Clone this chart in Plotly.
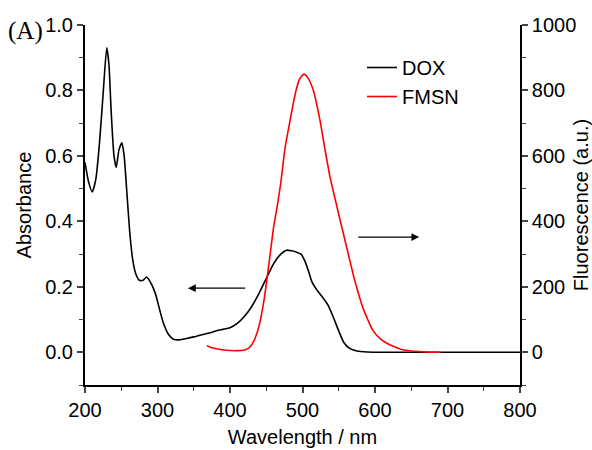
import plotly.graph_objects as go

# DOX absorbance (left axis)
dox_wl = [200, 205, 210, 215, 220, 225, 230, 233, 236, 240, 243, 247, 251, 254, 258, 262, 266, 270,
          275, 280, 285, 290, 297, 303, 308, 315, 322, 330, 340, 350, 360, 370, 380, 390, 400, 410,
          420, 430, 440, 450, 460, 470, 478, 485, 492, 498, 503, 508, 513, 520, 527, 535, 542, 550,
          557, 565, 575, 590, 610, 650, 700, 750, 800]
dox_abs = [0.58, 0.52, 0.49, 0.53, 0.64, 0.79, 0.93, 0.88, 0.74, 0.60, 0.565, 0.62, 0.64, 0.60, 0.48,
           0.36, 0.28, 0.24, 0.22, 0.22, 0.23, 0.215, 0.18, 0.13, 0.09, 0.055, 0.04, 0.038, 0.042,
           0.047, 0.053, 0.058, 0.065, 0.07, 0.075, 0.088, 0.11, 0.14, 0.18, 0.225, 0.27, 0.30,
           0.312, 0.31, 0.306, 0.30, 0.28, 0.25, 0.215, 0.19, 0.17, 0.145, 0.11, 0.065, 0.03, 0.012,
           0.004, 0.001, 0.0, 0.0, 0.0, 0.0, 0.0]

# FMSN fluorescence (right axis)
fmsn_wl = [368, 375, 385, 395, 410, 420, 427, 433, 440, 447, 454, 460, 465, 470, 476, 483, 490, 496,
           502, 507, 515, 524, 531, 538, 548, 555, 561, 572, 583, 590, 597, 607, 617, 630, 640, 655,
           670, 690]
fmsn_fl = [20, 14, 9, 6, 5, 7, 15, 35, 80, 160, 275, 380, 445, 517, 625, 710, 790, 835, 850, 840, 800,
           710, 620, 535, 440, 375, 320, 220, 138, 100, 67, 42, 27, 14, 7, 3, 1, 0]

x_ticks = [200, 300, 400, 500, 600, 700, 800]
left_ticks = [0.0, 0.2, 0.4, 0.6, 0.8, 1.0]
right_ticks = [0, 200, 400, 600, 800, 1000]

FONT = "Liberation Sans, Arial, sans-serif"
FS = 20

fig = go.Figure()
fig.add_trace(go.Scatter(x=dox_wl, y=dox_abs, mode="lines", name="DOX",
                         line=dict(color="black", width=1.6, shape="spline", smoothing=0.6)))
fig.add_trace(go.Scatter(x=fmsn_wl, y=fmsn_fl, mode="lines", name="FMSN", yaxis="y2",
                         line=dict(color="red", width=1.6, shape="spline", smoothing=0.6)))

L, R, T, B = 85, 72, 25, 65
PW = 592 - L - R
PH = 450 - T - B

fig.update_layout(
    width=592, height=450,
    margin=dict(l=L, r=R, t=T, b=B, autoexpand=False),
    paper_bgcolor="white", plot_bgcolor="white",
    font=dict(family=FONT, size=FS, color="black"),
    showlegend=True,
    legend=dict(x=(362 - L) / PW, y=1 - (48 - T) / PH, xanchor="left", yanchor="top",
                bgcolor="rgba(0,0,0,0)", font=dict(size=FS), tracegroupgap=0, itemwidth=30),
    xaxis=dict(range=[200, 800], tickvals=x_ticks, ticks="outside", ticklen=6, tickwidth=1.5,
               showline=True, linecolor="black", linewidth=2, showgrid=False, zeroline=False,
               automargin=False,
               minor=dict(dtick=50, ticks="outside", ticklen=4, tickwidth=1, tick0=200),
               title=dict(text="Wavelength / nm", standoff=10, font=dict(size=FS))),
    xaxis2=dict(range=[200, 800], overlaying="x", side="top", anchor="y", tickvals=x_ticks,
                showticklabels=False, ticks="inside", ticklen=4, tickwidth=1.5, automargin=False,
                showline=True, linecolor="#666666", linewidth=2, showgrid=False, zeroline=False),
    yaxis=dict(range=[-0.1, 1.0], tickvals=left_ticks, tickformat=".1f", ticks="outside",
               ticklen=6, tickwidth=1.5, showline=True, linecolor="black", linewidth=2,
               showgrid=False, zeroline=False, automargin=False,
               minor=dict(dtick=0.1, tick0=0, ticks="outside", ticklen=4, tickwidth=1),
               title=dict(text="Absorbance", standoff=8, font=dict(size=FS))),
    yaxis2=dict(range=[-100, 1000], overlaying="y", side="right", anchor="x", tickvals=right_ticks,
                ticks="outside", ticklen=6, tickwidth=1.5, showline=True, linecolor="black",
                linewidth=1.6, showgrid=False, zeroline=False, automargin=False,
                minor=dict(dtick=100, tick0=0, ticks="outside", ticklen=4, tickwidth=1),
                title=dict(text="Fluorescence (a.u.)", standoff=6, font=dict(size=FS))),
)

# arrows indicating the axis for each curve
fig.add_annotation(x=342, y=0.196, xref="x", yref="y", ax=423, ay=0.196, axref="x", ayref="y",
                   showarrow=True, arrowhead=2, arrowsize=1.2, arrowwidth=1.3, arrowcolor="black", text="")
fig.add_annotation(x=661, y=352, xref="x", yref="y2", ax=575, ay=352, axref="x", ayref="y2",
                   showarrow=True, arrowhead=2, arrowsize=1.2, arrowwidth=1.3, arrowcolor="black", text="")

fig.add_annotation(text="(A)", x=(26 - L) / PW, y=1 - (31 - T) / PH, xref="paper", yref="paper",
                   xanchor="center", yanchor="middle", showarrow=False,
                   font=dict(family="Liberation Serif, Times New Roman, serif", size=25, color="black"))

fig.write_html("out.html")
